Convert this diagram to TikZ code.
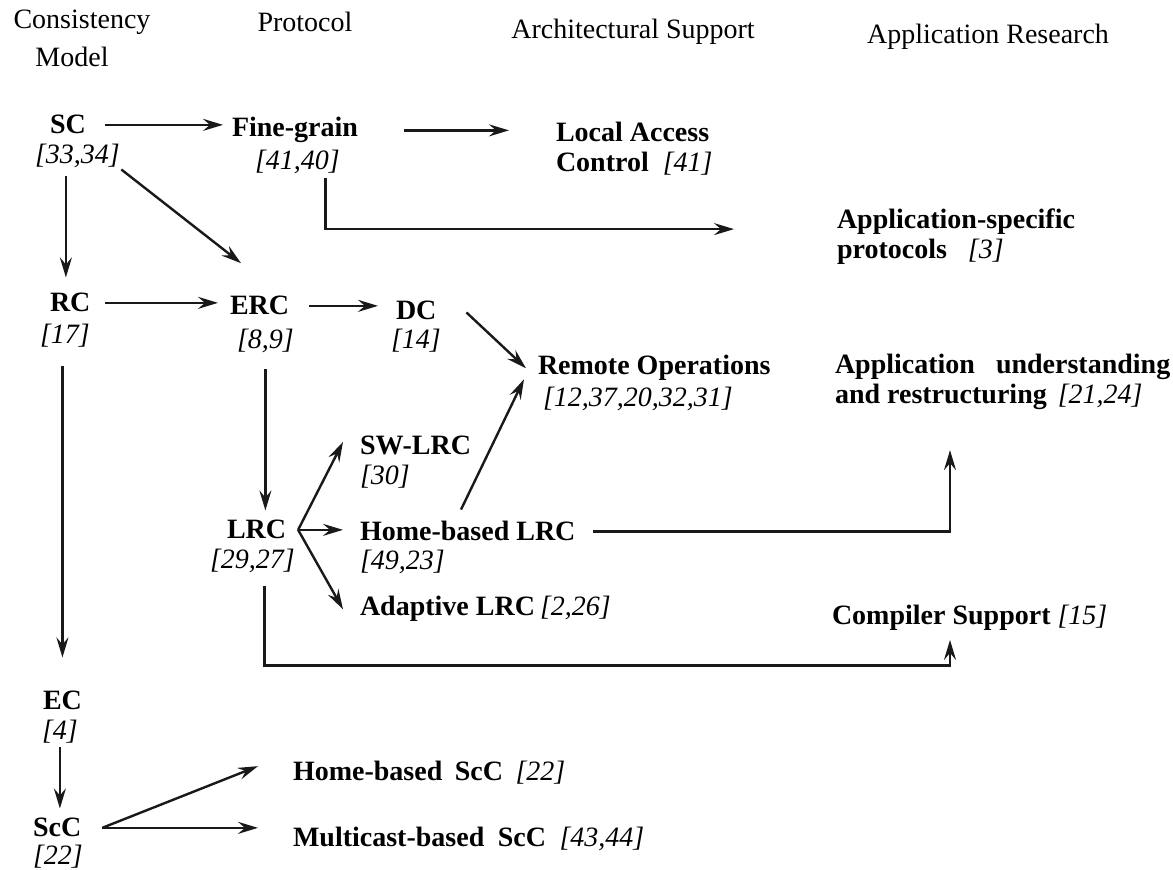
\documentclass[tikz,border=0pt]{standalone}
\usepackage{fontspec}
\setmainfont{Liberation Serif}
\usetikzlibrary{arrows.meta,calc}
\begin{document}
\begin{tikzpicture}[x=0.5pt,y=-0.5pt,
  every node/.style={inner sep=0pt,outer sep=0pt,font=\fontsize{14}{15}\selectfont},
  hdr/.style={anchor=base},
  nm/.style={anchor=base west,font=\fontsize{14}{15}\selectfont\bfseries},
  rf/.style={anchor=base west,font=\fontsize{14}{15}\selectfont\itshape},
  ln/.style={draw=black!90,line width=1.2pt},
  arr/.style={ln,-{Stealth[length=10pt,width=6pt,inset=3.5pt]}}
]
\useasboundingbox[fill=white] (0,0) rectangle (1173,870);

% headers
\node[hdr] (hcons) at (82,29) {Consistency};
\node[hdr] (hmodel) at (72,67) {Model};
\node[hdr] (hprot) at (305,32) {Protocol};
\node[hdr] (harch) at (633,39) {Architectural Support};
\node[hdr] (happ) at (988,44) {Application Research};

% nodes
\node[nm] (sc) at (50,134) {SC};
\node[rf] (scr) at (35,164) {[33,34]};
\node[nm] (fg) at (232,137) {Fine-grain};
\node[rf] (fgr) at (255,170) {[41,40]};
\node[nm] (la1) at (556,142) {Local Access};
\node[nm] (la2) at (556,172) {Control\hspace{7pt}\textit{\mdseries[41]}};
\node[nm] (as1) at (837,229) {Application-specific};
\node[nm] (as2) at (837,259) {protocols\hspace{10.5pt}\textit{\mdseries[3]}};

\node[nm] (rc) at (50,312) {RC};
\node[rf] (rcr) at (40,344) {[17]};
\node[nm] (erc) at (230,315) {ERC};
\node[rf] (ercr) at (237,349) {[8,9]};
\node[nm] (dc) at (396,320) {DC};
\node[rf] (dcr) at (391,349) {[14]};
\node[nm] (ro1) at (538,375) {Remote Operations};
\node[rf] (ro2) at (543,407) {[12,37,20,32,31]};
\node[nm] (au1) at (835,374) {Application\hspace{10.5pt}understanding};
\node[nm] (au2) at (835,404) {and restructuring\hspace{5.5pt}\textit{\mdseries[21,24]}};

\node[nm] (sw1) at (360,455) {SW-LRC};
\node[rf] (sw2) at (360,485) {[30]};
\node[nm] (lrc) at (227,539) {LRC};
\node[rf] (lrcr) at (210,569) {[29,27]};
\node[nm] (hb1) at (360,541) {Home-based LRC};
\node[rf] (hb2) at (360,570) {[49,23]};
\node[nm] (ad) at (360,616) {Adaptive LRC\hspace{2.5pt}\textit{\mdseries[2,26]}};
\node[nm] (cs) at (832,625) {Compiler Support\hspace{3.5pt}\textit{\mdseries[15]}};

\node[nm] (ec) at (43,710) {EC};
\node[rf] (ecr) at (42,740) {[4]};
\node[nm] (scc) at (33,837) {ScC};
\node[rf] (sccr) at (33,864) {[22]};
\node[nm] (hs) at (293,781) {Home-based\hspace{6.25pt}ScC\hspace{6.25pt}\textit{\mdseries[22]}};
\node[nm] (ms) at (293,847) {Multicast-based\hspace{6.75pt}ScC\hspace{6.75pt}\textit{\mdseries[43,44]}};

% connectors
\draw[arr,shorten <=9.5pt,shorten >=4.5pt] (sc.east) -- (sc.east -| fg.west);
\draw[arr,shorten <=23pt,shorten >=23.5pt] (fg.east) -- (fg.east -| la1.west);
\draw[arr] ([xshift=14pt,yshift=-2pt]fgr.south) |- ([xshift=-51.5pt,yshift=-3.5pt]as1.west);
\draw[arr,shorten <=4pt,shorten >=8pt] ([xshift=-1pt]sc |- scr.south) -- ([xshift=-1pt]sc |- rc.north);
\draw[arr,shorten <=1pt,shorten >=27pt] (scr.south east) -- ([xshift=12pt]erc.north);
\draw[arr,shorten <=7.5pt,shorten >=6pt] (rc.east) -- (rc.east -| erc.west);
\draw[arr,shorten <=10pt,shorten >=9pt] (erc.east) -- (erc.east -| dc.west);
\draw[arr] ([xshift=15pt,yshift=-5.5pt]dc.north east) -- ([xshift=-6pt]ro1.west);
\draw[arr] ([xshift=50.5pt,yshift=6pt]hb1.north west) -- ([xshift=-7pt,yshift=-5.5pt]ro1.west);
\draw[arr,shorten <=8pt,shorten >=5pt] (ercr.south) -- (ercr.south |- lrc.north);
\draw[arr,shorten <=9pt,shorten >=17pt] (ec.north |- rcr.south) -- (ec.north);
\draw[arr] ([xshift=6pt]lrc.east) -- ([xshift=-8.5pt,yshift=2pt]sw1.west);
\draw[arr,shorten <=6pt,shorten >=8.5pt] (lrc.east) -- (lrc.east -| hb1.west);
\draw[arr] ([xshift=6pt]lrc.east) -- ([xshift=-8.5pt]ad.west);
\draw[arr] ([xshift=9pt]hb1.east) -| ([xshift=57.5pt,yshift=-20pt]au2.south west);
\draw[arr] ([xshift=6pt,yshift=-6.5pt]lrcr.south) -- ++(0,79) -| ([xshift=59pt,yshift=-4.5pt]cs.south west);
\draw[arr,shorten <=1.5pt,shorten >=5pt] (ecr.south) -- (ecr.south |- scc.north);
\draw[arr] ([xshift=10.5pt]scc.east) -- ([xshift=-17.5pt,yshift=3.5pt]hs.west);
\draw[arr,shorten <=10.5pt,shorten >=17.5pt] (scc.east) -- (scc.east -| ms.west);
\end{tikzpicture}
\end{document}
